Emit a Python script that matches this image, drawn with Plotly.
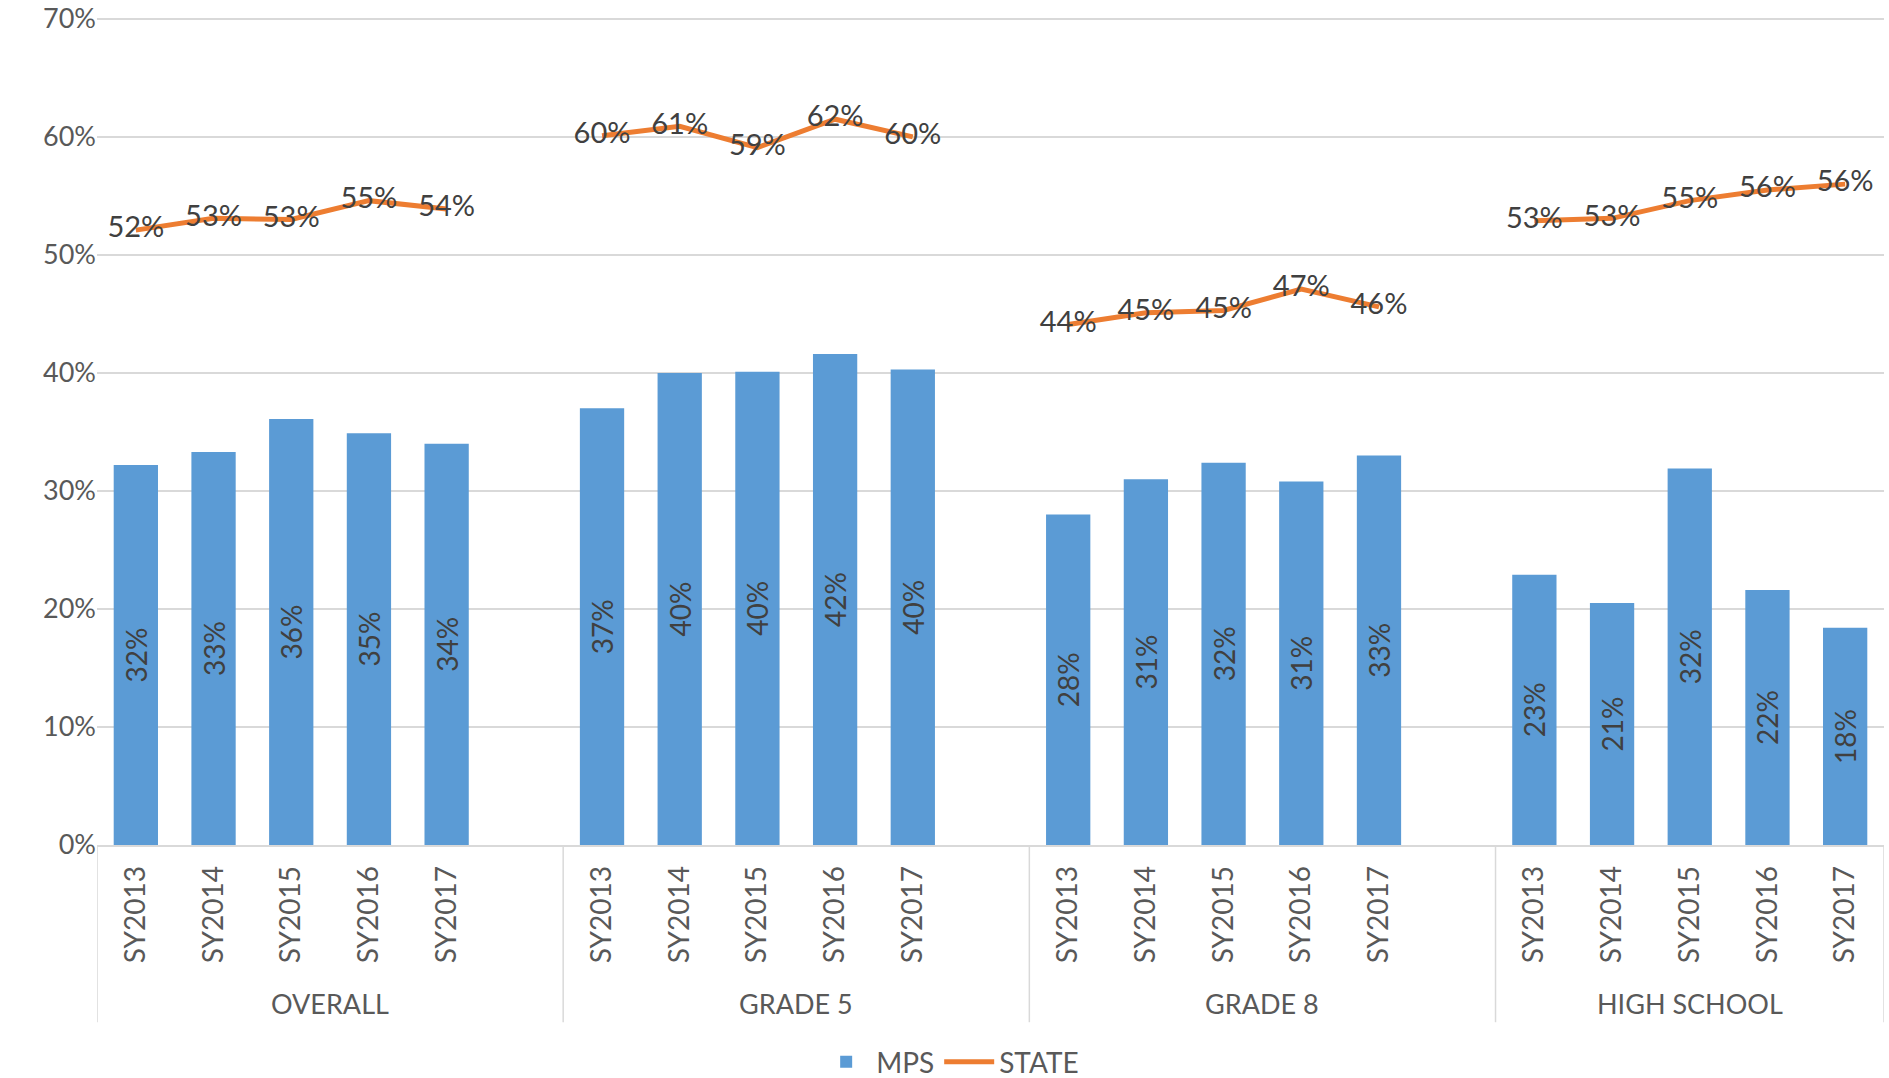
import plotly.graph_objects as go

groups = ["OVERALL", "GRADE 5", "GRADE 8", "HIGH SCHOOL"]
years = ["SY2013", "SY2014", "SY2015", "SY2016", "SY2017"]

mps_overall = [0.322, 0.333, 0.361, 0.349, 0.340]
mps_grade5 = [0.370, 0.400, 0.401, 0.416, 0.403]
mps_grade8 = [0.280, 0.310, 0.324, 0.308, 0.330]
mps_high = [0.229, 0.205, 0.319, 0.216, 0.184]

state_overall = [0.521, 0.531, 0.530, 0.546, 0.539]
state_grade5 = [0.601, 0.609, 0.591, 0.615, 0.600]
state_grade8 = [0.441, 0.451, 0.453, 0.471, 0.456]
state_high = [0.529, 0.531, 0.546, 0.555, 0.560]

y_ticks = [0.0, 0.1, 0.2, 0.3, 0.4, 0.5, 0.6, 0.7]

mps_all = [mps_overall, mps_grade5, mps_grade8, mps_high]
state_all = [state_overall, state_grade5, state_grade8, state_high]

slot = len(years) + 1
bar_x, bar_y, line_x, line_y, tick_x, tick_t = [], [], [], [], [], []
for g, name in enumerate(groups):
    for i, yr in enumerate(years):
        x = g * slot + i
        bar_x.append(x)
        bar_y.append(mps_all[g][i])
        line_x.append(x)
        line_y.append(state_all[g][i])
        tick_x.append(x)
        tick_t.append(yr)
    line_x.append(g * slot + len(years))
    line_y.append(None)

xmin = -0.5
xmax = (len(groups) - 1) * slot + len(years) - 0.5

FONT = "Lato"
LABEL = "#404040"
AXIS = "#595959"
GRID = "#D9D9D9"

fig = go.Figure()
fig.add_trace(go.Bar(
    x=bar_x, y=bar_y, name="MPS",
    marker=dict(color="#5B9BD5", line=dict(width=0)),
    width=0.57,
    texttemplate="%{y:.0%}", textposition="inside", insidetextanchor="middle",
    textangle=-90, constraintext="none",
    textfont=dict(family=FONT, size=28, color=LABEL),
))
fig.add_trace(go.Scatter(
    x=line_x, y=line_y, name="STATE", mode="lines+text",
    line=dict(color="#ED7D31", width=5), connectgaps=False,
    texttemplate="%{y:.0%}", textposition="middle center",
    textfont=dict(family=FONT, size=29, color=LABEL),
))

# group separators and labels
bounds = [xmin] + [g * slot + len(years) + 0.5 for g in range(len(groups) - 1)] + [xmax]
for b in bounds:
    fig.add_shape(type="line", xref="x", yref="paper", x0=b, x1=b, y0=0, y1=-0.213,
                  line=dict(color=GRID, width=1.5))
for g, name in enumerate(groups):
    fig.add_annotation(x=(bounds[g] + bounds[g + 1]) / 2, y=-0.19, xref="x", yref="paper",
                       text=name, showarrow=False, yanchor="middle",
                       font=dict(family=FONT, size=27, color=AXIS))

fig.update_layout(
    width=1889, height=1078,
    margin=dict(l=97, r=5, t=13, b=233),
    plot_bgcolor="white", paper_bgcolor="white",
    showlegend=True,
    legend=dict(orientation="h", x=0.503, xanchor="center", xref="container",
                y=0.0148, yanchor="middle", yref="container", itemwidth=50,
                font=dict(family=FONT, size=28, color=AXIS)),
    font=dict(family=FONT, size=27, color=AXIS),
)
fig.update_xaxes(range=[xmin, xmax], tickvals=tick_x, ticktext=tick_t, tickangle=-90,
                 showgrid=False, zeroline=False, showline=True, linecolor=GRID, linewidth=1.5,
                 ticks="", ticklabelstandoff=8, automargin=False,
                 tickfont=dict(family=FONT, size=28, color=AXIS))
fig.update_yaxes(range=[0, 0.705], tickvals=y_ticks, tickformat=".0%", showgrid=True,
                 gridcolor=GRID, gridwidth=1.5, zeroline=False, showline=False, ticks="",
                 ticklabeloverflow="allow", automargin=False,
                 tickfont=dict(family=FONT, size=27, color=AXIS))

fig.write_html("out.html", config={"displayModeBar": False},
               post_script="document.body.style.margin='0';")
